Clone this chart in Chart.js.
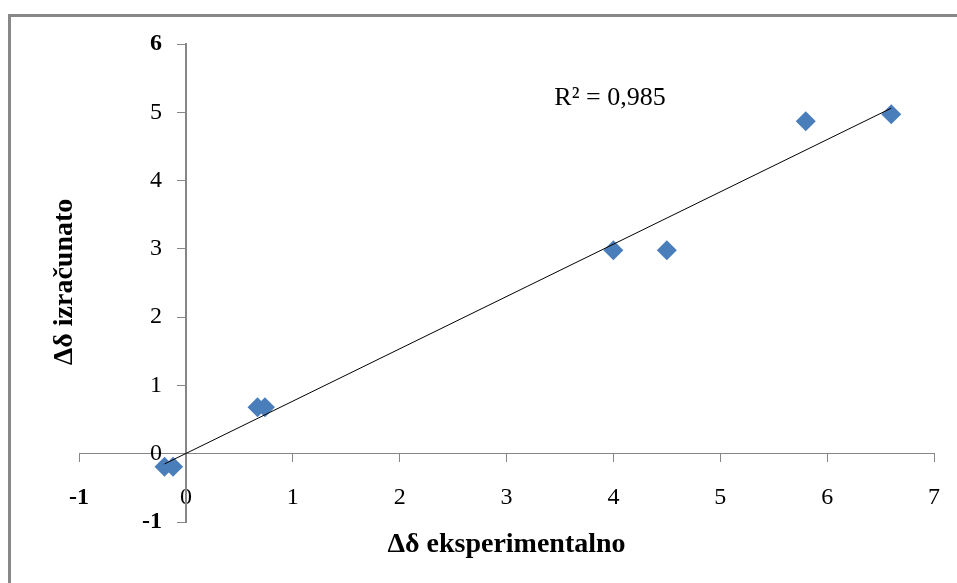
<!DOCTYPE html>
<html>
<head>
<meta charset="utf-8">
<script src="https://cdn.jsdelivr.net/npm/chart.js@4"></script>
<style>
  html, body { margin: 0; padding: 0; background: #fff; overflow: hidden; }
  #wrap { position: relative; width: 957px; height: 583px; }
  #frame {
    position: absolute; left: 8px; top: 14px; width: 1000px; height: 700px;
    border-top: 3px solid #888; border-left: 3px solid #888;
  }
  canvas { position: absolute; left: 0; top: 0; }
</style>
</head>
<body>
<div id="wrap">
  <div id="frame"></div>
  <canvas id="chart" width="957" height="583"></canvas>
</div>
<script>
// measured values (Δδ eksperimentalno vs Δδ izračunato)
const expValues = [-0.20, -0.12, 0.67, 0.74, 4.0, 4.5, 5.8, 6.6];
const calcValues = [-0.19, -0.19, 0.68, 0.68, 2.98, 2.98, 4.87, 4.97];

// linear trendline ends
const trendX = [-0.20, 6.6];
const trendY = [-0.15, 5.06];

const xTickLabels = ["-1", "0", "1", "2", "3", "4", "5", "6", "7"];
const yTickLabels = ["-1", "0", "1", "2", "3", "4", "5", "6"];

const rSquared = "R² = 0,985";
const xTitle = "Δδ eksperimentalno";
const yTitle = "Δδ izračunato";

const serif = "'Liberation Serif', 'Times New Roman', serif";

// axis titles and R² label
const labelsPlugin = {
  id: "labels",
  afterDraw(chart) {
    const ctx = chart.ctx;
    const area = chart.chartArea;
    ctx.save();
    ctx.fillStyle = "#000";
    ctx.textAlign = "center";
    ctx.textBaseline = "middle";

    ctx.font = "bold 28px " + serif;
    ctx.fillText(xTitle, (area.left + area.right) / 2, 545);

    ctx.save();
    ctx.translate(65, 282);
    ctx.rotate(-Math.PI / 2);
    ctx.fillText(yTitle, 0, 0);
    ctx.restore();

    ctx.font = "26px " + serif;
    ctx.fillText(rSquared, 610, 98);
    ctx.restore();
  }
};

// the scanned original shows a few labels heavier than the rest
const tickFont = (bolds) => (c) => ({
  family: serif,
  size: 24,
  weight: c.tick && bolds.includes(c.tick.value) ? "bold" : "normal"
});

const ctx = document.getElementById("chart").getContext("2d");

new Chart(ctx, {
  type: "scatter",
  data: {
    datasets: [
      {
        label: "trend",
        data: trendX.map((x, i) => ({ x: x, y: trendY[i] })),
        showLine: true,
        borderColor: "#000",
        borderWidth: 1,
        pointRadius: 0,
        order: 0
      },
      {
        label: "Δδ",
        data: expValues.map((x, i) => ({ x: x, y: calcValues[i] })),
        pointStyle: "rectRot",
        pointRadius: 10,
        backgroundColor: "#4A7EBB",
        borderColor: "#4A7EBB",
        borderWidth: 0,
        order: 1
      }
    ]
  },
  options: {
    responsive: false,
    animation: false,
    layout: {
      padding: { left: 79, right: 23, top: 44, bottom: 61 }
    },
    plugins: {
      legend: { display: false },
      tooltip: { enabled: false }
    },
    scales: {
      x: {
        type: "linear",
        min: -1,
        max: 7,
        position: { y: 0 },
        // axis crosses at y = 0, so it should not eat any layout space
        afterFit(scale) {
          scale.height = 0;
          scale.paddingLeft = 0;
          scale.paddingRight = 0;
        },
        border: { color: "#868686", width: 1 },
        grid: { drawOnChartArea: false, drawTicks: true, tickLength: 8, color: "#868686" },
        ticks: {
          stepSize: 1,
          autoSkip: false,
          maxRotation: 0,
          padding: 22,
          color: "#000",
          font: tickFont([-1]),
          callback: (v) => xTickLabels[Math.round(v) + 1]
        }
      },
      y: {
        type: "linear",
        min: -1,
        max: 6,
        position: { x: 0 },
        afterFit(scale) {
          scale.width = 0;
          scale.paddingTop = 0;
          scale.paddingBottom = 0;
        },
        border: { color: "#868686", width: 2 },
        grid: { drawOnChartArea: false, drawTicks: true, tickLength: 8, color: "#868686" },
        ticks: {
          stepSize: 1,
          autoSkip: false,
          color: "#000",
          font: tickFont([-1, 6]),
          // labels sit right at the axis line here, so pad them with en spaces
          callback: (v) => yTickLabels[Math.round(v) + 1] + "\u2002\u2002"
        }
      }
    }
  },
  plugins: [labelsPlugin]
});
</script>
</body>
</html>
